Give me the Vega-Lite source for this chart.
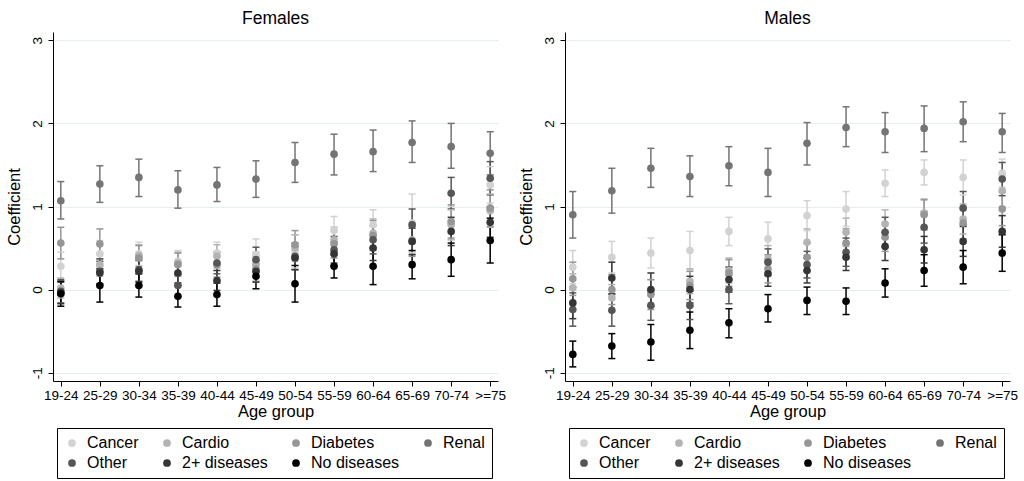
{
  "$schema": "https://vega.github.io/schema/vega-lite/v6.json",
  "background": "white",
  "padding": {"left": 6, "top": 9, "right": 4, "bottom": 0},
  "config": {
    "font": "Liberation Sans",
    "view": {"stroke": null},
    "axis": {
      "domainColor": "#000000",
      "tickColor": "#000000",
      "labelColor": "#000000",
      "titleColor": "#000000",
      "titleFontWeight": "normal",
      "titleFontSize": 16.5,
      "labelFontSize": 13.5,
      "tickSize": 5
    },
    "title": {"fontSize": 17.5, "fontWeight": "normal", "color": "#000000"},
    "legend": {"labelFontSize": 16, "labelColor": "#000000", "symbolOpacity": 1}
  },
  "datasets": {
    "coef": [
      {"sex":"Females","age":"19-24","group":"Cancer","b":0.28,"lo":0.11,"hi":0.45},
      {"sex":"Females","age":"25-29","group":"Cancer","b":0.43,"lo":0.27,"hi":0.59},
      {"sex":"Females","age":"30-34","group":"Cancer","b":0.43,"lo":0.29,"hi":0.57},
      {"sex":"Females","age":"35-39","group":"Cancer","b":0.34,"lo":0.21,"hi":0.47},
      {"sex":"Females","age":"40-44","group":"Cancer","b":0.44,"lo":0.31,"hi":0.57},
      {"sex":"Females","age":"45-49","group":"Cancer","b":0.42,"lo":0.23,"hi":0.61},
      {"sex":"Females","age":"50-54","group":"Cancer","b":0.46,"lo":0.26,"hi":0.66},
      {"sex":"Females","age":"55-59","group":"Cancer","b":0.71,"lo":0.54,"hi":0.88},
      {"sex":"Females","age":"60-64","group":"Cancer","b":0.78,"lo":0.60,"hi":0.96},
      {"sex":"Females","age":"65-69","group":"Cancer","b":0.80,"lo":0.45,"hi":1.15},
      {"sex":"Females","age":"70-74","group":"Cancer","b":0.80,"lo":0.60,"hi":1.00},
      {"sex":"Females","age":">=75","group":"Cancer","b":1.26,"lo":1.04,"hi":1.48},

      {"sex":"Females","age":"19-24","group":"Cardio","b":0.02,"lo":-0.10,"hi":0.14},
      {"sex":"Females","age":"25-29","group":"Cardio","b":0.30,"lo":0.16,"hi":0.44},
      {"sex":"Females","age":"30-34","group":"Cardio","b":0.41,"lo":0.28,"hi":0.54},
      {"sex":"Females","age":"35-39","group":"Cardio","b":0.32,"lo":0.19,"hi":0.45},
      {"sex":"Females","age":"40-44","group":"Cardio","b":0.40,"lo":0.26,"hi":0.54},
      {"sex":"Females","age":"45-49","group":"Cardio","b":0.30,"lo":0.15,"hi":0.45},
      {"sex":"Females","age":"50-54","group":"Cardio","b":0.50,"lo":0.34,"hi":0.66},
      {"sex":"Females","age":"55-59","group":"Cardio","b":0.60,"lo":0.45,"hi":0.75},
      {"sex":"Females","age":"60-64","group":"Cardio","b":0.68,"lo":0.51,"hi":0.85},
      {"sex":"Females","age":"65-69","group":"Cardio","b":0.60,"lo":0.43,"hi":0.77},
      {"sex":"Females","age":"70-74","group":"Cardio","b":0.78,"lo":0.60,"hi":0.96},
      {"sex":"Females","age":">=75","group":"Cardio","b":0.95,"lo":0.75,"hi":1.15},

      {"sex":"Females","age":"19-24","group":"Diabetes","b":0.56,"lo":0.37,"hi":0.75},
      {"sex":"Females","age":"25-29","group":"Diabetes","b":0.55,"lo":0.37,"hi":0.73},
      {"sex":"Females","age":"30-34","group":"Diabetes","b":0.38,"lo":0.23,"hi":0.53},
      {"sex":"Females","age":"35-39","group":"Diabetes","b":0.30,"lo":0.16,"hi":0.44},
      {"sex":"Females","age":"40-44","group":"Diabetes","b":0.30,"lo":0.15,"hi":0.45},
      {"sex":"Females","age":"45-49","group":"Diabetes","b":0.25,"lo":0.10,"hi":0.40},
      {"sex":"Females","age":"50-54","group":"Diabetes","b":0.54,"lo":0.37,"hi":0.71},
      {"sex":"Females","age":"55-59","group":"Diabetes","b":0.55,"lo":0.38,"hi":0.72},
      {"sex":"Females","age":"60-64","group":"Diabetes","b":0.65,"lo":0.47,"hi":0.83},
      {"sex":"Females","age":"65-69","group":"Diabetes","b":0.58,"lo":0.40,"hi":0.76},
      {"sex":"Females","age":"70-74","group":"Diabetes","b":0.82,"lo":0.62,"hi":1.02},
      {"sex":"Females","age":">=75","group":"Diabetes","b":0.98,"lo":0.76,"hi":1.20},

      {"sex":"Females","age":"19-24","group":"Renal","b":1.07,"lo":0.85,"hi":1.30},
      {"sex":"Females","age":"25-29","group":"Renal","b":1.27,"lo":1.05,"hi":1.49},
      {"sex":"Females","age":"30-34","group":"Renal","b":1.35,"lo":1.12,"hi":1.57},
      {"sex":"Females","age":"35-39","group":"Renal","b":1.20,"lo":0.98,"hi":1.43},
      {"sex":"Females","age":"40-44","group":"Renal","b":1.26,"lo":1.06,"hi":1.47},
      {"sex":"Females","age":"45-49","group":"Renal","b":1.33,"lo":1.11,"hi":1.55},
      {"sex":"Females","age":"50-54","group":"Renal","b":1.53,"lo":1.29,"hi":1.77},
      {"sex":"Females","age":"55-59","group":"Renal","b":1.63,"lo":1.38,"hi":1.87},
      {"sex":"Females","age":"60-64","group":"Renal","b":1.66,"lo":1.42,"hi":1.92},
      {"sex":"Females","age":"65-69","group":"Renal","b":1.77,"lo":1.53,"hi":2.03},
      {"sex":"Females","age":"70-74","group":"Renal","b":1.72,"lo":1.46,"hi":2.00},
      {"sex":"Females","age":">=75","group":"Renal","b":1.64,"lo":1.38,"hi":1.90},

      {"sex":"Females","age":"19-24","group":"Other","b":-0.02,"lo":-0.16,"hi":0.12},
      {"sex":"Females","age":"25-29","group":"Other","b":0.22,"lo":0.07,"hi":0.37},
      {"sex":"Females","age":"30-34","group":"Other","b":0.24,"lo":0.10,"hi":0.38},
      {"sex":"Females","age":"35-39","group":"Other","b":0.05,"lo":-0.08,"hi":0.18},
      {"sex":"Females","age":"40-44","group":"Other","b":0.32,"lo":0.19,"hi":0.45},
      {"sex":"Females","age":"45-49","group":"Other","b":0.36,"lo":0.21,"hi":0.51},
      {"sex":"Females","age":"50-54","group":"Other","b":0.40,"lo":0.24,"hi":0.56},
      {"sex":"Females","age":"55-59","group":"Other","b":0.48,"lo":0.32,"hi":0.64},
      {"sex":"Females","age":"60-64","group":"Other","b":0.60,"lo":0.43,"hi":0.77},
      {"sex":"Females","age":"65-69","group":"Other","b":0.78,"lo":0.59,"hi":0.97},
      {"sex":"Females","age":"70-74","group":"Other","b":1.16,"lo":0.97,"hi":1.35},
      {"sex":"Females","age":">=75","group":"Other","b":1.34,"lo":1.14,"hi":1.54},

      {"sex":"Females","age":"19-24","group":"2+ diseases","b":-0.04,"lo":-0.17,"hi":0.09},
      {"sex":"Females","age":"25-29","group":"2+ diseases","b":0.20,"lo":0.06,"hi":0.34},
      {"sex":"Females","age":"30-34","group":"2+ diseases","b":0.22,"lo":0.09,"hi":0.35},
      {"sex":"Females","age":"35-39","group":"2+ diseases","b":0.20,"lo":0.08,"hi":0.32},
      {"sex":"Females","age":"40-44","group":"2+ diseases","b":0.11,"lo":-0.01,"hi":0.23},
      {"sex":"Females","age":"45-49","group":"2+ diseases","b":0.22,"lo":0.09,"hi":0.35},
      {"sex":"Females","age":"50-54","group":"2+ diseases","b":0.38,"lo":0.24,"hi":0.52},
      {"sex":"Females","age":"55-59","group":"2+ diseases","b":0.43,"lo":0.29,"hi":0.57},
      {"sex":"Females","age":"60-64","group":"2+ diseases","b":0.50,"lo":0.35,"hi":0.65},
      {"sex":"Females","age":"65-69","group":"2+ diseases","b":0.58,"lo":0.42,"hi":0.74},
      {"sex":"Females","age":"70-74","group":"2+ diseases","b":0.70,"lo":0.53,"hi":0.87},
      {"sex":"Females","age":">=75","group":"2+ diseases","b":0.81,"lo":0.63,"hi":0.99},

      {"sex":"Females","age":"19-24","group":"No diseases","b":-0.05,"lo":-0.20,"hi":0.10},
      {"sex":"Females","age":"25-29","group":"No diseases","b":0.05,"lo":-0.15,"hi":0.25},
      {"sex":"Females","age":"30-34","group":"No diseases","b":0.05,"lo":-0.09,"hi":0.19},
      {"sex":"Females","age":"35-39","group":"No diseases","b":-0.08,"lo":-0.21,"hi":0.05},
      {"sex":"Females","age":"40-44","group":"No diseases","b":-0.06,"lo":-0.20,"hi":0.08},
      {"sex":"Females","age":"45-49","group":"No diseases","b":0.16,"lo":0.01,"hi":0.31},
      {"sex":"Females","age":"50-54","group":"No diseases","b":0.07,"lo":-0.15,"hi":0.29},
      {"sex":"Females","age":"55-59","group":"No diseases","b":0.28,"lo":0.14,"hi":0.42},
      {"sex":"Females","age":"60-64","group":"No diseases","b":0.28,"lo":0.06,"hi":0.50},
      {"sex":"Females","age":"65-69","group":"No diseases","b":0.30,"lo":0.13,"hi":0.47},
      {"sex":"Females","age":"70-74","group":"No diseases","b":0.36,"lo":0.16,"hi":0.56},
      {"sex":"Females","age":">=75","group":"No diseases","b":0.59,"lo":0.32,"hi":0.86},

      {"sex":"Males","age":"19-24","group":"Cancer","b":0.27,"lo":0.07,"hi":0.47},
      {"sex":"Males","age":"25-29","group":"Cancer","b":0.39,"lo":0.20,"hi":0.58},
      {"sex":"Males","age":"30-34","group":"Cancer","b":0.44,"lo":0.26,"hi":0.62},
      {"sex":"Males","age":"35-39","group":"Cancer","b":0.47,"lo":0.24,"hi":0.70},
      {"sex":"Males","age":"40-44","group":"Cancer","b":0.70,"lo":0.53,"hi":0.87},
      {"sex":"Males","age":"45-49","group":"Cancer","b":0.61,"lo":0.41,"hi":0.81},
      {"sex":"Males","age":"50-54","group":"Cancer","b":0.89,"lo":0.71,"hi":1.07},
      {"sex":"Males","age":"55-59","group":"Cancer","b":0.97,"lo":0.76,"hi":1.18},
      {"sex":"Males","age":"60-64","group":"Cancer","b":1.28,"lo":1.12,"hi":1.44},
      {"sex":"Males","age":"65-69","group":"Cancer","b":1.41,"lo":1.26,"hi":1.56},
      {"sex":"Males","age":"70-74","group":"Cancer","b":1.35,"lo":1.14,"hi":1.56},
      {"sex":"Males","age":">=75","group":"Cancer","b":1.40,"lo":1.23,"hi":1.57},

      {"sex":"Males","age":"19-24","group":"Cardio","b":0.02,"lo":-0.15,"hi":0.19},
      {"sex":"Males","age":"25-29","group":"Cardio","b":-0.10,"lo":-0.26,"hi":0.06},
      {"sex":"Males","age":"30-34","group":"Cardio","b":-0.04,"lo":-0.20,"hi":0.12},
      {"sex":"Males","age":"35-39","group":"Cardio","b":0.10,"lo":-0.05,"hi":0.25},
      {"sex":"Males","age":"40-44","group":"Cardio","b":0.23,"lo":0.08,"hi":0.38},
      {"sex":"Males","age":"45-49","group":"Cardio","b":0.37,"lo":0.21,"hi":0.53},
      {"sex":"Males","age":"50-54","group":"Cardio","b":0.57,"lo":0.41,"hi":0.73},
      {"sex":"Males","age":"55-59","group":"Cardio","b":0.69,"lo":0.52,"hi":0.86},
      {"sex":"Males","age":"60-64","group":"Cardio","b":0.79,"lo":0.62,"hi":0.96},
      {"sex":"Males","age":"65-69","group":"Cardio","b":0.92,"lo":0.75,"hi":1.09},
      {"sex":"Males","age":"70-74","group":"Cardio","b":0.85,"lo":0.67,"hi":1.03},
      {"sex":"Males","age":">=75","group":"Cardio","b":1.19,"lo":1.00,"hi":1.38},

      {"sex":"Males","age":"19-24","group":"Diabetes","b":0.13,"lo":-0.07,"hi":0.33},
      {"sex":"Males","age":"25-29","group":"Diabetes","b":0.00,"lo":-0.18,"hi":0.18},
      {"sex":"Males","age":"30-34","group":"Diabetes","b":-0.06,"lo":-0.24,"hi":0.12},
      {"sex":"Males","age":"35-39","group":"Diabetes","b":0.05,"lo":-0.12,"hi":0.22},
      {"sex":"Males","age":"40-44","group":"Diabetes","b":0.20,"lo":0.04,"hi":0.36},
      {"sex":"Males","age":"45-49","group":"Diabetes","b":0.25,"lo":0.08,"hi":0.42},
      {"sex":"Males","age":"50-54","group":"Diabetes","b":0.39,"lo":0.22,"hi":0.56},
      {"sex":"Males","age":"55-59","group":"Diabetes","b":0.56,"lo":0.39,"hi":0.73},
      {"sex":"Males","age":"60-64","group":"Diabetes","b":0.63,"lo":0.46,"hi":0.80},
      {"sex":"Males","age":"65-69","group":"Diabetes","b":0.90,"lo":0.72,"hi":1.08},
      {"sex":"Males","age":"70-74","group":"Diabetes","b":0.80,"lo":0.61,"hi":0.99},
      {"sex":"Males","age":">=75","group":"Diabetes","b":0.97,"lo":0.77,"hi":1.17},

      {"sex":"Males","age":"19-24","group":"Renal","b":0.90,"lo":0.62,"hi":1.18},
      {"sex":"Males","age":"25-29","group":"Renal","b":1.19,"lo":0.92,"hi":1.46},
      {"sex":"Males","age":"30-34","group":"Renal","b":1.46,"lo":1.23,"hi":1.70},
      {"sex":"Males","age":"35-39","group":"Renal","b":1.36,"lo":1.12,"hi":1.61},
      {"sex":"Males","age":"40-44","group":"Renal","b":1.49,"lo":1.25,"hi":1.72},
      {"sex":"Males","age":"45-49","group":"Renal","b":1.41,"lo":1.12,"hi":1.70},
      {"sex":"Males","age":"50-54","group":"Renal","b":1.76,"lo":1.50,"hi":2.01},
      {"sex":"Males","age":"55-59","group":"Renal","b":1.95,"lo":1.72,"hi":2.20},
      {"sex":"Males","age":"60-64","group":"Renal","b":1.90,"lo":1.65,"hi":2.13},
      {"sex":"Males","age":"65-69","group":"Renal","b":1.94,"lo":1.66,"hi":2.21},
      {"sex":"Males","age":"70-74","group":"Renal","b":2.02,"lo":1.78,"hi":2.26},
      {"sex":"Males","age":">=75","group":"Renal","b":1.90,"lo":1.65,"hi":2.12},

      {"sex":"Males","age":"19-24","group":"Other","b":-0.24,"lo":-0.44,"hi":-0.04},
      {"sex":"Males","age":"25-29","group":"Other","b":-0.25,"lo":-0.44,"hi":-0.06},
      {"sex":"Males","age":"30-34","group":"Other","b":-0.19,"lo":-0.37,"hi":-0.01},
      {"sex":"Males","age":"35-39","group":"Other","b":-0.19,"lo":-0.36,"hi":-0.02},
      {"sex":"Males","age":"40-44","group":"Other","b":0.00,"lo":-0.17,"hi":0.17},
      {"sex":"Males","age":"45-49","group":"Other","b":0.33,"lo":0.17,"hi":0.49},
      {"sex":"Males","age":"50-54","group":"Other","b":0.30,"lo":0.14,"hi":0.46},
      {"sex":"Males","age":"55-59","group":"Other","b":0.45,"lo":0.28,"hi":0.62},
      {"sex":"Males","age":"60-64","group":"Other","b":0.69,"lo":0.51,"hi":0.87},
      {"sex":"Males","age":"65-69","group":"Other","b":0.75,"lo":0.56,"hi":0.94},
      {"sex":"Males","age":"70-74","group":"Other","b":0.98,"lo":0.78,"hi":1.18},
      {"sex":"Males","age":">=75","group":"Other","b":1.33,"lo":1.13,"hi":1.53},

      {"sex":"Males","age":"19-24","group":"2+ diseases","b":-0.16,"lo":-0.35,"hi":0.03},
      {"sex":"Males","age":"25-29","group":"2+ diseases","b":0.14,"lo":-0.05,"hi":0.33},
      {"sex":"Males","age":"30-34","group":"2+ diseases","b":0.00,"lo":-0.20,"hi":0.20},
      {"sex":"Males","age":"35-39","group":"2+ diseases","b":0.00,"lo":-0.16,"hi":0.16},
      {"sex":"Males","age":"40-44","group":"2+ diseases","b":0.12,"lo":-0.03,"hi":0.27},
      {"sex":"Males","age":"45-49","group":"2+ diseases","b":0.19,"lo":0.04,"hi":0.34},
      {"sex":"Males","age":"50-54","group":"2+ diseases","b":0.23,"lo":0.08,"hi":0.38},
      {"sex":"Males","age":"55-59","group":"2+ diseases","b":0.39,"lo":0.23,"hi":0.55},
      {"sex":"Males","age":"60-64","group":"2+ diseases","b":0.52,"lo":0.35,"hi":0.69},
      {"sex":"Males","age":"65-69","group":"2+ diseases","b":0.48,"lo":0.32,"hi":0.64},
      {"sex":"Males","age":"70-74","group":"2+ diseases","b":0.58,"lo":0.40,"hi":0.76},
      {"sex":"Males","age":">=75","group":"2+ diseases","b":0.70,"lo":0.51,"hi":0.89},

      {"sex":"Males","age":"19-24","group":"No diseases","b":-0.78,"lo":-0.93,"hi":-0.62},
      {"sex":"Males","age":"25-29","group":"No diseases","b":-0.68,"lo":-0.83,"hi":-0.53},
      {"sex":"Males","age":"30-34","group":"No diseases","b":-0.63,"lo":-0.85,"hi":-0.42},
      {"sex":"Males","age":"35-39","group":"No diseases","b":-0.49,"lo":-0.71,"hi":-0.27},
      {"sex":"Males","age":"40-44","group":"No diseases","b":-0.40,"lo":-0.58,"hi":-0.23},
      {"sex":"Males","age":"45-49","group":"No diseases","b":-0.23,"lo":-0.39,"hi":-0.06},
      {"sex":"Males","age":"50-54","group":"No diseases","b":-0.13,"lo":-0.30,"hi":0.03},
      {"sex":"Males","age":"55-59","group":"No diseases","b":-0.14,"lo":-0.30,"hi":0.02},
      {"sex":"Males","age":"60-64","group":"No diseases","b":0.08,"lo":-0.09,"hi":0.25},
      {"sex":"Males","age":"65-69","group":"No diseases","b":0.23,"lo":0.04,"hi":0.42},
      {"sex":"Males","age":"70-74","group":"No diseases","b":0.27,"lo":0.07,"hi":0.47},
      {"sex":"Males","age":">=75","group":"No diseases","b":0.44,"lo":0.22,"hi":0.66}
    ]
  },
  "spacing": 12,
  "resolve": {"legend": {"color": "independent"}},
  "hconcat": [
    {
      "title": {"text": "Females", "offset": 5},
      "width": 445,
      "height": 349,
      "data": {"name": "coef"},
      "transform": [{"filter": "datum.sex === 'Females'"}],
      "encoding": {
        "x": {
          "field": "age", "type": "ordinal",
          "sort": ["19-24","25-29","30-34","35-39","40-44","45-49","50-54","55-59","60-64","65-69","70-74",">=75"],
          "scale": {"type": "point", "padding": 0.2},
          "axis": {"title": "Age group", "labelAngle": 0, "grid": false, "labelPadding": 2, "titlePadding": 2}
        },
        "color": {
          "field": "group", "type": "nominal",
          "scale": {
            "domain": ["Cancer","Cardio","Diabetes","Renal","Other","2+ diseases","No diseases"],
            "range": ["#d2d2d2","#b4b4b4","#969696","#747474","#565656","#353535","#000000"]
          },
          "legend": {
            "title": null, "orient": "none", "legendX": 4, "legendY": 396,
            "direction": "horizontal",
            "columns": 4, "columnPadding": 20, "rowPadding": 4, "padding": 7,
            "strokeColor": "#000000", "symbolType": "circle", "symbolSize": 60,
            "symbolStrokeWidth": 0, "symbolOpacity": 1, "labelOffset": 7
          }
        }
      },
      "layer": [
        {
          "mark": {"type": "rule", "strokeWidth": 1.5, "opacity": 1},
          "encoding": {
            "y": {
              "field": "lo", "type": "quantitative", "title": "Coefficient",
              "scale": {"domain": [-1.1, 3.1], "nice": false, "zero": false},
              "axis": {"values": [-1, 0, 1, 2, 3], "labelExpr": "'' + datum.value", "labelAngle": -90, "grid": true, "gridColor": "#e6eef0", "labelPadding": 4, "titlePadding": 8}
            },
            "y2": {"field": "hi"}
          }
        },
        {
          "mark": {"type": "tick", "size": 7, "thickness": 1.5, "opacity": 1},
          "encoding": {"y": {"field": "lo", "type": "quantitative", "title": "Coefficient"}}
        },
        {
          "mark": {"type": "tick", "size": 7, "thickness": 1.5, "opacity": 1},
          "encoding": {"y": {"field": "hi", "type": "quantitative", "title": "Coefficient"}}
        },
        {
          "mark": {"type": "circle", "size": 58, "opacity": 1},
          "encoding": {"y": {"field": "b", "type": "quantitative", "title": "Coefficient"}}
        }
      ]
    },
    {
      "title": {"text": "Males", "offset": 5},
      "width": 445,
      "height": 349,
      "data": {"name": "coef"},
      "transform": [{"filter": "datum.sex === 'Males'"}],
      "encoding": {
        "x": {
          "field": "age", "type": "ordinal",
          "sort": ["19-24","25-29","30-34","35-39","40-44","45-49","50-54","55-59","60-64","65-69","70-74",">=75"],
          "scale": {"type": "point", "padding": 0.2},
          "axis": {"title": "Age group", "labelAngle": 0, "grid": false, "labelPadding": 2, "titlePadding": 2}
        },
        "color": {
          "field": "group", "type": "nominal",
          "scale": {
            "domain": ["Cancer","Cardio","Diabetes","Renal","Other","2+ diseases","No diseases"],
            "range": ["#d2d2d2","#b4b4b4","#969696","#747474","#565656","#353535","#000000"]
          },
          "legend": {
            "title": null, "orient": "none", "legendX": 4, "legendY": 396,
            "direction": "horizontal",
            "columns": 4, "columnPadding": 20, "rowPadding": 4, "padding": 7,
            "strokeColor": "#000000", "symbolType": "circle", "symbolSize": 60,
            "symbolStrokeWidth": 0, "symbolOpacity": 1, "labelOffset": 7
          }
        }
      },
      "layer": [
        {
          "mark": {"type": "rule", "strokeWidth": 1.5, "opacity": 1},
          "encoding": {
            "y": {
              "field": "lo", "type": "quantitative", "title": "Coefficient",
              "scale": {"domain": [-1.1, 3.1], "nice": false, "zero": false},
              "axis": {"values": [-1, 0, 1, 2, 3], "labelExpr": "'' + datum.value", "labelAngle": -90, "grid": true, "gridColor": "#e6eef0", "labelPadding": 4, "titlePadding": 8}
            },
            "y2": {"field": "hi"}
          }
        },
        {
          "mark": {"type": "tick", "size": 7, "thickness": 1.5, "opacity": 1},
          "encoding": {"y": {"field": "lo", "type": "quantitative", "title": "Coefficient"}}
        },
        {
          "mark": {"type": "tick", "size": 7, "thickness": 1.5, "opacity": 1},
          "encoding": {"y": {"field": "hi", "type": "quantitative", "title": "Coefficient"}}
        },
        {
          "mark": {"type": "circle", "size": 58, "opacity": 1},
          "encoding": {"y": {"field": "b", "type": "quantitative", "title": "Coefficient"}}
        }
      ]
    }
  ]
}
